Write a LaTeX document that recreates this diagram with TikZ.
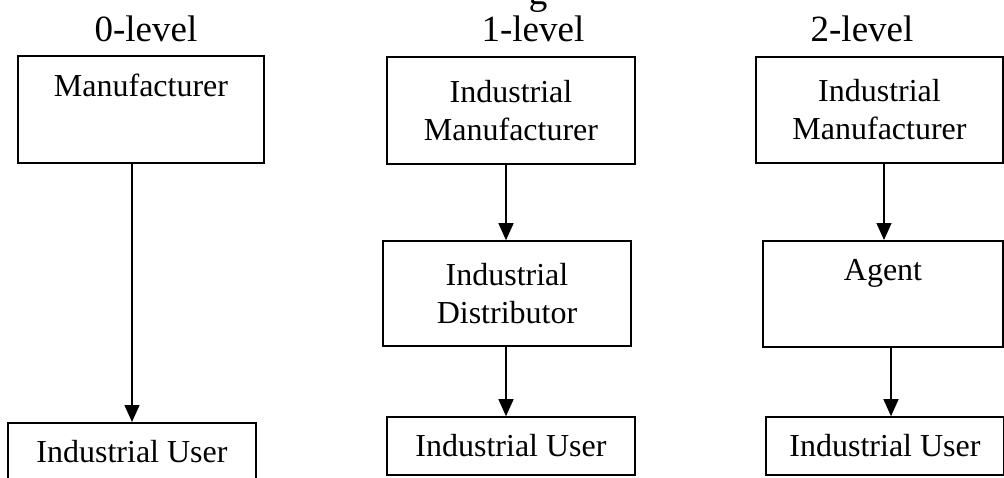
\documentclass[tikz,border=0pt]{standalone}
\usepackage{fontspec}
\setmainfont{Liberation Serif}
\usetikzlibrary{arrows.meta}

\begin{document}
\begin{tikzpicture}[x=1pt,y=-1pt,
  box/.style={draw, line width=1.6pt, inner sep=0pt, align=center,
              font=\fontsize{32}{38}\selectfont},
  title/.style={inner sep=0pt, anchor=base, font=\fontsize{37}{44}\selectfont},
  arr/.style={line width=1.3pt, -{Triangle[width=15pt,length=17pt]}}]
\useasboundingbox (0,0) rectangle (1004,477);

% heading fragment and column titles
\node[title] (tg) at (538,4) {g};
\node[title] (t0) at (146,41) {0-level};
\node[title] (t1) at (533,41) {1-level};
\node[title] (t2) at (862,41) {2-level};

% 0-level channel
\node[box, anchor=north, minimum width=246pt, text height=41pt, text depth=66pt]
  (m0) at (141,55) {Manufacturer};
\node[box, anchor=north, minimum width=248pt, text height=40pt, text depth=30pt]
  (u0) at (132,422) {Industrial User};

% 1-level channel
\node[box, minimum width=248pt, minimum height=107pt] (m1) at (511,110.5)
  {Industrial\\Manufacturer};
\node[box, minimum width=248pt, minimum height=105pt] (d1) at (507,293.5)
  {Industrial\\Distributor};
\node[box, minimum width=248pt, minimum height=58pt] (u1) at (511,446)
  {Industrial User};

% 2-level channel
\node[box, minimum width=247pt, minimum height=106pt] (m2) at (879.5,110)
  {Industrial\\Manufacturer};
\node[box, anchor=north, minimum width=240pt, text height=40pt, text depth=66pt]
  (g2) at (883,240) {Agent};
\node[box, minimum width=238pt, minimum height=58pt] (u2) at (885,446)
  {Industrial User};

% connector columns
\coordinate (xa) at (132,0);
\coordinate (xb) at (506,0);
\coordinate (xc) at (884,0);
\coordinate (xd) at (891,0);

\draw[arr] (m0.south -| xa) -- (u0.north -| xa);
\draw[arr] (m1.south -| xb) -- (d1.north -| xb);
\draw[arr] (d1.south -| xb) -- (u1.north -| xb);
\draw[arr] (m2.south -| xc) -- (g2.north -| xc);
\draw[arr] (g2.south -| xd) -- (u2.north -| xd);
\end{tikzpicture}
\end{document}
